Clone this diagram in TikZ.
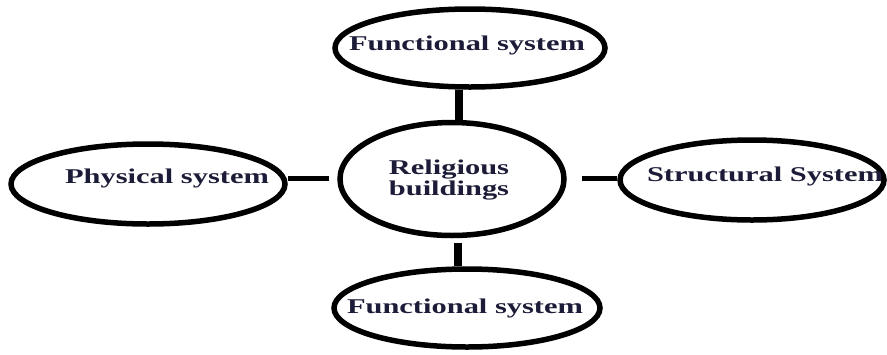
\documentclass[tikz,border=0pt]{standalone}
\usepackage{fontspec}
\setmainfont{Liberation Serif}
\usepackage{graphicx}
\usetikzlibrary{shapes.geometric}
\definecolor{textnavy}{HTML}{1C1C38}
\newcommand{\stretchtxt}[1]{\scalebox{1.45}[1]{#1}}

\begin{document}
\begin{tikzpicture}[x=1pt,y=-1pt]
\tikzset
{%定义样式
  oval/.style 2 args={ellipse,draw,line width=5.5pt,inner sep=0pt,minimum width=#1,minimum height=#2},
  txt/.style={anchor=base,inner sep=0pt,text=textnavy,font=\fontsize{21}{17.5}\selectfont\bfseries},
  hlink/.style={draw,line width=5pt},
  vlink/.style={draw,line width=8pt},
}
\useasboundingbox (0,0) rectangle (887,354);

\node[oval={270pt}{78pt}] (top) at (470,48) {};
\node[oval={224pt}{113pt}] (rel) at (452,179) {};
\node[oval={274pt}{80pt}] (phys) at (148,184) {};
\node[oval={264pt}{80pt}] (struct) at (752,180) {};
\node[oval={266pt}{78pt}] (bot) at (467,308) {};

\node[txt] (topT) at (467,50) {\stretchtxt{Functional system}};
\node[txt,anchor=center,align=center] (relT) at (449,180) {\stretchtxt{Religious}\\\stretchtxt{buildings}};
\node[txt] (physT) at (167,183) {\stretchtxt{Physical system}};
\node[txt] (structT) at (765,181) {\stretchtxt{Structural System}};
\node[txt] (botT) at (465,313) {\stretchtxt{Functional system}};

\draw[vlink] ([xshift=7pt]rel.north) -- ([xshift=7pt]rel.north |- top.south);
\draw[vlink,shorten <=5pt] ([xshift=6pt]rel.south) -- ([xshift=6pt]rel.south |- bot.north);
\draw[hlink,shorten >=8pt] ([yshift=6pt]phys.east) -- ([yshift=6pt]phys.east -| rel.west);
\draw[hlink,shorten <=15pt] ([yshift=2pt]struct.west -| rel.east) -- ([yshift=2pt]struct.west);
\end{tikzpicture}
\end{document}
